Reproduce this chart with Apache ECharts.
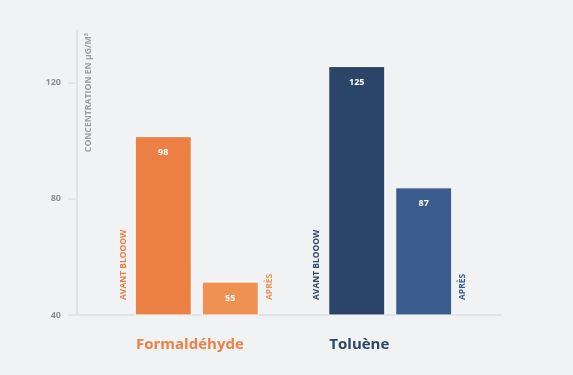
<!DOCTYPE html>
<html>
<head>
<meta charset="utf-8">
<script src="https://cdn.jsdelivr.net/npm/echarts@6/dist/echarts.min.js"></script>
<style>
html,body{margin:0;padding:0;background:#F1F2F4;}
#c{width:573px;height:375px;}
</style>
</head>
<body>
<div id="c"></div>
<script>
// Data
const categories = ['Formaldéhyde', 'Toluène'];
const avantValues = [101.5, 125.6];   // bar heights as drawn
const apresValues = [51.5, 83.9];
const avantLabels = ['98', '125'];    // printed value labels
const apresLabels = ['55', '87'];
const avantTag = 'AVANT BLOOOW';
const apresTag = 'APRÈS';
const yTicks = [40, 80, 120];
const yName = 'CONCENTRATION EN µG/M³';

// Styles
const avantColors = ['#EB7F44', '#2B4569'];
const apresColors = ['#EE9152', '#3A5C8E'];
const catColors = ['#EE8045', '#2B4569'];
const FONT = 'Open Sans';
const axisGray = '#E2E3E6';

const yMin = 40, yMax = 138;

function barItems(vals, colors, labels) {
  return vals.map((v, i) => ({
    value: v,
    itemStyle: { color: colors[i] },
    label: { formatter: labels[i] }
  }));
}
function tagItems(vals, colors) {
  return vals.map((v, i) => ({ value: v, label: { color: colors[i] } }));
}

const chart = echarts.init(document.getElementById('c'), null, { renderer: 'canvas' });
const barCommon = { barWidth: 57, barGap: '17.5%' };

chart.setOption({
  animation: false,
  backgroundColor: '#F1F2F4',
  textStyle: { fontFamily: FONT },
  grid: [
    { left: 77, right: 72, top: 30, bottom: 60 },
    { left: 100, right: 86, top: 30, bottom: 60 },
    { left: 39.3, right: 147, top: 30, bottom: 60 }
  ],
  xAxis: [
    { gridIndex: 0, type: 'value', min: 0, max: 1,
      axisLine: { show: true, onZero: false, lineStyle: { color: axisGray, width: 2 } },
      axisTick: { show: false }, axisLabel: { show: false }, splitLine: { show: false } },
    { gridIndex: 1, type: 'category', data: categories,
      axisLine: { show: false }, axisTick: { show: false }, axisLabel: { show: false } },
    { gridIndex: 1, type: 'category', data: categories, show: false },
    { gridIndex: 2, type: 'category', data: categories,
      axisLine: { show: false }, axisTick: { show: false },
      axisLabel: {
        show: true, align: 'left', margin: 22,
        fontFamily: FONT, fontWeight: 'bold', fontSize: 15,
        formatter: (v, i) => '{c' + i + '|' + v + '}',
        rich: {
          c0: { color: catColors[0], fontFamily: FONT, fontWeight: 'bold', fontSize: 15 },
          c1: { color: catColors[1], fontFamily: FONT, fontWeight: 'bold', fontSize: 15 }
        }
      } }
  ],
  yAxis: [
    { gridIndex: 0, type: 'value', min: yMin, max: yMax,
      name: yName, nameLocation: 'end', nameRotate: 90, nameGap: -3,
      nameTextStyle: { align: 'right', verticalAlign: 'top', padding: [7, 0, 0, 0],
        color: '#9A9EA5', fontSize: 8.7, fontWeight: 'bold', fontFamily: FONT },
      axisLine: { show: true, lineStyle: { color: axisGray, width: 2 } },
      axisTick: { show: true, length: 9, customValues: yTicks, lineStyle: { color: axisGray, width: 2 } },
      axisLabel: { show: true, customValues: yTicks, margin: 16, color: '#8C9199',
        fontSize: 9, fontWeight: 'bold', fontFamily: FONT },
      splitLine: { show: false } },
    { gridIndex: 1, type: 'value', min: yMin, max: yMax, show: false, splitLine: { show: false } },
    { gridIndex: 2, type: 'value', min: yMin, max: yMax, show: false, splitLine: { show: false } }
  ],
  series: [
    Object.assign({
      type: 'bar', xAxisIndex: 1, yAxisIndex: 1,
      data: barItems(avantValues, avantColors, avantLabels),
      itemStyle: { borderColor: '#ffffff', borderWidth: 1 },
      label: { show: true, position: 'insideTop', distance: 12, color: '#fff',
        fontSize: 9, fontWeight: 'bold', fontFamily: FONT },
      silent: true
    }, barCommon),
    Object.assign({
      type: 'bar', xAxisIndex: 1, yAxisIndex: 1,
      data: barItems(apresValues, apresColors, apresLabels),
      itemStyle: { borderColor: '#ffffff', borderWidth: 1 },
      label: { show: true, position: 'insideTop', distance: 12, color: '#fff',
        fontSize: 9, fontWeight: 'bold', fontFamily: FONT },
      silent: true
    }, barCommon),
    Object.assign({
      type: 'bar', xAxisIndex: 2, yAxisIndex: 1,
      data: tagItems(avantValues, avantColors),
      itemStyle: { color: 'rgba(0,0,0,0)' },
      label: { show: true, formatter: avantTag, position: [0, '100%'], offset: [15, -11.6],
        rotate: 90, align: 'left', verticalAlign: 'middle',
        fontSize: 8.5, fontWeight: 'bold', fontFamily: FONT },
      silent: true, z: 5
    }, barCommon),
    Object.assign({
      type: 'bar', xAxisIndex: 2, yAxisIndex: 1,
      data: tagItems(apresValues, apresColors),
      itemStyle: { color: 'rgba(0,0,0,0)' },
      label: { show: true, formatter: apresTag, position: ['100%', '100%'], offset: [15, 10.7],
        rotate: 90, align: 'left', verticalAlign: 'middle',
        fontSize: 8.5, fontWeight: 'bold', fontFamily: FONT },
      silent: true, z: 5
    }, barCommon)
  ]
});
</script>
</body>
</html>
